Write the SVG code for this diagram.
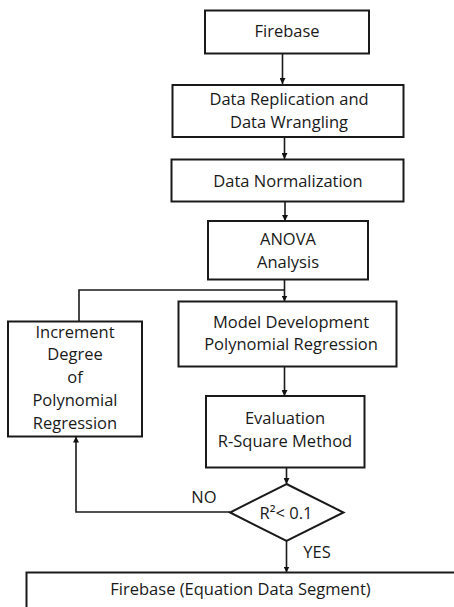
<svg xmlns="http://www.w3.org/2000/svg" width="454" height="607" viewBox="0 0 454 607">
<defs>
<marker id="ah" viewBox="0 0 10 10" refX="10" refY="5" markerWidth="6" markerHeight="6" markerUnits="userSpaceOnUse" orient="auto">
<path d="M0,0 L10,5 L0,10 z" fill="#111"/>
</marker>
<style>
.box{fill:#fff;stroke:#1a1a1a;stroke-width:2}
.t{font-family:"Open Sans","Noto Sans",sans-serif;font-size:16.5px;fill:#1a1a1a;text-anchor:middle}
.c{fill:none;stroke:#1a1a1a;stroke-width:1.6}
</style>
</defs>
<rect width="454" height="607" fill="#fff"/>
<g id="connectors">
<line class="c" x1="282.5" y1="53.5" x2="282.5" y2="84" marker-end="url(#ah)"/>
<line class="c" x1="284.5" y1="137" x2="284.5" y2="159" marker-end="url(#ah)"/>
<line class="c" x1="285" y1="201.5" x2="285" y2="221" marker-end="url(#ah)"/>
<line class="c" x1="284.5" y1="279.5" x2="284.5" y2="301.5" marker-end="url(#ah)"/>
<polyline class="c" points="284.5,290 79,290 79,321.5"/>
<line class="c" x1="284.5" y1="366.5" x2="284.5" y2="396" marker-end="url(#ah)"/>
<line class="c" x1="286.5" y1="467.5" x2="286.5" y2="484" marker-end="url(#ah)"/>
<polyline class="c" points="230,512 76,512 76,436.5" marker-end="url(#ah)"/>
<line class="c" x1="286.5" y1="541" x2="286.5" y2="572.5" marker-end="url(#ah)"/>
<text class="t" x="204" y="502.5">NO</text>
<text class="t" x="317" y="557.5">YES</text>
</g>
<g id="firebase">
<rect class="box" x="205" y="10.5" width="164" height="43"/>
<text class="t" x="287" y="37">Firebase</text>
</g>
<g id="replication">
<rect class="box" x="172.5" y="85" width="231" height="52"/>
<text class="t" x="289" y="105">Data Replication and</text>
<text class="t" x="289" y="127.5">Data Wrangling</text>
</g>
<g id="normalization">
<rect class="box" x="171.5" y="159.5" width="232" height="42"/>
<text class="t" x="288" y="186.5">Data Normalization</text>
</g>
<g id="anova">
<rect class="box" x="208" y="221" width="160" height="58.5"/>
<text class="t" x="288" y="245">ANOVA</text>
<text class="t" x="288" y="267.5">Analysis</text>
</g>
<g id="model">
<rect class="box" x="178.5" y="301.5" width="218" height="65"/>
<text class="t" x="291" y="327.5">Model Development</text>
<text class="t" x="291" y="350">Polynomial Regression</text>
</g>
<g id="increment">
<rect class="box" x="8" y="321.5" width="134" height="115"/>
<text class="t" x="75" y="337.5">Increment</text>
<text class="t" x="75" y="360">Degree</text>
<text class="t" x="75" y="383">of</text>
<text class="t" x="75" y="405.5">Polynomial</text>
<text class="t" x="75" y="428.5">Regression</text>
</g>
<g id="evaluation">
<rect class="box" x="206" y="396" width="158.5" height="71.5"/>
<text class="t" x="285" y="424">Evaluation</text>
<text class="t" x="285" y="446.5">R-Square Method</text>
</g>
<g id="decision">
<polygon class="box" points="286.5,484 343.5,512.5 286.5,541 230,512.5"/>
<text class="t" x="286" y="519">R²&lt; 0.1</text>
</g>
<g id="firebase-segment">
<rect class="box" x="26.5" y="572.5" width="440" height="50"/>
<text class="t" x="240.5" y="595">Firebase (Equation Data Segment)</text>
</g>
</svg>
